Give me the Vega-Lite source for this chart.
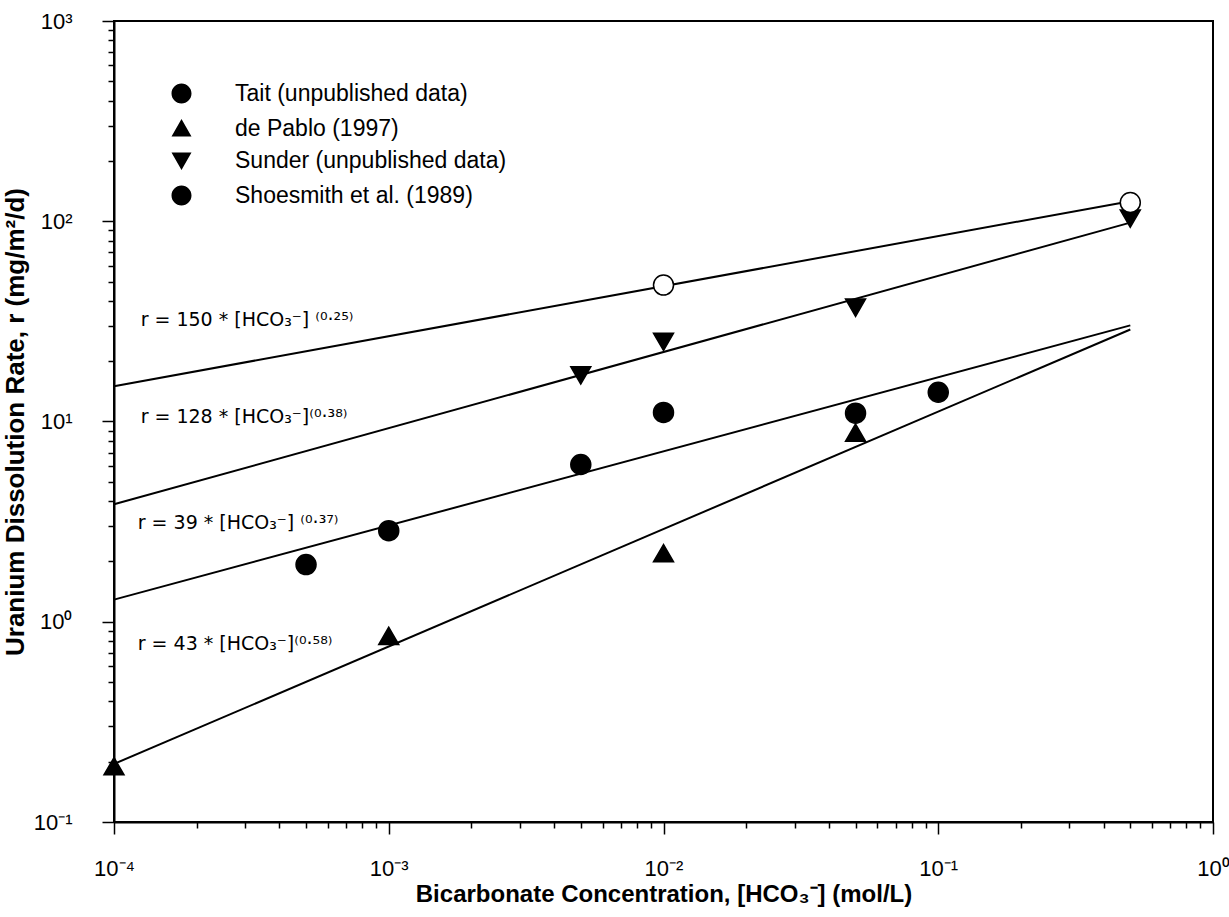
{
  "$schema": "https://vega.github.io/schema/vega-lite/v6.json",
  "autosize": {"type": "none"},
  "width": 1099,
  "height": 801,
  "padding": {"left": 114, "top": 21, "right": 16, "bottom": 95},
  "background": "white",
  "config": {
    "view": {"stroke": "black", "strokeWidth": 2},
    "font": "Liberation Sans",
    "axis": {
      "grid": false,
      "domainColor": "black",
      "domainWidth": 2,
      "tickColor": "black",
      "tickWidth": 1.5,
      "labelColor": "black",
      "titleColor": "black",
      "labelFont": "Liberation Sans",
      "titleFont": "Liberation Sans",
      "labelFontSize": 22,
      "titleFontSize": 24,
      "titleFontWeight": "bold",
      "labelOverlap": false,
      "labelFlush": false
    }
  },
  "datasets": {
    "points": [
      {"series": "Tait (unpublished data)", "conc": 0.0005, "rate": 1.93},
      {"series": "Tait (unpublished data)", "conc": 0.001, "rate": 2.85},
      {"series": "Tait (unpublished data)", "conc": 0.005, "rate": 6.1},
      {"series": "Tait (unpublished data)", "conc": 0.01, "rate": 11.1},
      {"series": "Tait (unpublished data)", "conc": 0.05, "rate": 11.0},
      {"series": "Tait (unpublished data)", "conc": 0.1, "rate": 14.0},
      {"series": "de Pablo (1997)", "conc": 0.0001, "rate": 0.19},
      {"series": "de Pablo (1997)", "conc": 0.001, "rate": 0.85},
      {"series": "de Pablo (1997)", "conc": 0.01, "rate": 2.2},
      {"series": "de Pablo (1997)", "conc": 0.05, "rate": 8.8},
      {"series": "Sunder (unpublished data)", "conc": 0.005, "rate": 17},
      {"series": "Sunder (unpublished data)", "conc": 0.01, "rate": 25},
      {"series": "Sunder (unpublished data)", "conc": 0.05, "rate": 37},
      {"series": "Sunder (unpublished data)", "conc": 0.5, "rate": 103},
      {"series": "Shoesmith et al. (1989)", "conc": 0.01, "rate": 48},
      {"series": "Shoesmith et al. (1989)", "conc": 0.5, "rate": 124}
    ],
    "fits": [
      {"fit": "Shoesmith", "conc": 0.0001, "rate": 15.0},
      {"fit": "Shoesmith", "conc": 0.5, "rate": 126},
      {"fit": "Sunder", "conc": 0.0001, "rate": 3.86},
      {"fit": "Sunder", "conc": 0.5, "rate": 98.4},
      {"fit": "Tait", "conc": 0.0001, "rate": 1.29},
      {"fit": "Tait", "conc": 0.5, "rate": 30.2},
      {"fit": "de Pablo", "conc": 0.0001, "rate": 0.195},
      {"fit": "de Pablo", "conc": 0.5, "rate": 28.8}
    ],
    "labels": [
      {"text": "r = 150 * [HCO₃⁻] ⁽⁰·²⁵⁾", "conc": 0.000125, "rate": 30},
      {"text": "r = 128 * [HCO₃⁻]⁽⁰·³⁸⁾", "conc": 0.000125, "rate": 9.8},
      {"text": "r = 39 * [HCO₃⁻] ⁽⁰·³⁷⁾", "conc": 0.000122, "rate": 2.9},
      {"text": "r = 43 * [HCO₃⁻]⁽⁰·⁵⁸⁾", "conc": 0.000122, "rate": 0.72}
    ]
  },
  "resolve": {
    "scale": {"shape": "independent"},
    "legend": {"shape": "independent"}
  },
  "encoding": {
    "x": {
      "field": "conc",
      "type": "quantitative",
      "scale": {"type": "log", "domain": [0.0001, 1]},
      "axis": {
        "title": "Bicarbonate Concentration, [HCO₃⁻] (mol/L)",
        "values": [0.0001, 0.0002, 0.0003, 0.0004, 0.0005, 0.0006, 0.0007, 0.0008, 0.0009, 0.001, 0.002, 0.003, 0.004, 0.005, 0.006, 0.007, 0.008, 0.009, 0.01, 0.02, 0.03, 0.04, 0.05, 0.06, 0.07, 0.08, 0.09, 0.1, 0.2, 0.3, 0.4, 0.5, 0.6, 0.7, 0.8, 0.9, 1],
        "labelExpr": "datum.value == 0.0001 ? '10⁻⁴' : datum.value == 0.001 ? '10⁻³' : datum.value == 0.01 ? '10⁻²' : datum.value == 0.1 ? '10⁻¹' : datum.value == 1 ? '10⁰' : ''",
        "tickSize": {"condition": {"test": "indexof([0.0001, 0.001, 0.01, 0.1, 1], datum.value) >= 0", "value": 12}, "value": 6},
        "labelPadding": 24,
        "titlePadding": 3
      }
    },
    "y": {
      "field": "rate",
      "type": "quantitative",
      "scale": {"type": "log", "domain": [0.1, 1000]},
      "axis": {
        "title": "Uranium Dissolution Rate, r (mg/m²/d)",
        "titleFontSize": 26,
        "values": [0.1, 0.2, 0.3, 0.4, 0.5, 0.6, 0.7, 0.8, 0.9, 1, 2, 3, 4, 5, 6, 7, 8, 9, 10, 20, 30, 40, 50, 60, 70, 80, 90, 100, 200, 300, 400, 500, 600, 700, 800, 900, 1000],
        "labelExpr": "datum.value == 0.1 ? '10⁻¹' : datum.value == 1 ? '10⁰' : datum.value == 10 ? '10¹' : datum.value == 100 ? '10²' : datum.value == 1000 ? '10³' : ''",
        "tickSize": {"condition": {"test": "indexof([0.1, 1, 10, 100, 1000], datum.value) >= 0", "value": 12}, "value": 6},
        "labelPadding": 30,
        "titlePadding": 5
      }
    }
  },
  "layer": [
    {
      "data": {"name": "fits"},
      "mark": {"type": "line", "color": "black", "strokeWidth": 2},
      "encoding": {"detail": {"field": "fit"}}
    },
    {
      "data": {"name": "points"},
      "mark": {"type": "point", "stroke": "black", "strokeWidth": 1.5, "opacity": 1, "size": 400, "fillOpacity": 1},
      "encoding": {
        "shape": {
          "field": "series",
          "type": "nominal",
          "scale": {
            "domain": ["Tait (unpublished data)", "de Pablo (1997)", "Sunder (unpublished data)", "Shoesmith et al. (1989)"],
            "range": ["circle", "triangle-up", "triangle-down", "circle"]
          },
          "legend": null
        },
        "fill": {
          "field": "series",
          "type": "nominal",
          "scale": {
            "domain": ["Tait (unpublished data)", "de Pablo (1997)", "Sunder (unpublished data)", "Shoesmith et al. (1989)"],
            "range": ["black", "black", "black", "white"]
          },
          "legend": null
        }
      }
    },
    {
      "data": {"name": "points"},
      "mark": {"type": "point", "filled": true, "fill": "black", "stroke": "black", "strokeWidth": 2, "opacity": 0, "size": 400},
      "encoding": {
        "shape": {
          "field": "series",
          "type": "nominal",
          "scale": {
            "domain": ["Tait (unpublished data)", "de Pablo (1997)", "Sunder (unpublished data)", "Shoesmith et al. (1989)"],
            "range": [
              "M-2.6,0H-1A1,1 0 1,1 1,0A1,1 0 1,1 -1,0M1,0H2.6",
              "M-2.6,0.25H2.6M0,-0.95L1,0.8L-1,0.8Z",
              "M-2.6,-0.25H2.6M0,0.95L1,-0.8L-1,-0.8Z",
              "M-2.6,0H-1A1,1 0 1,1 1,0A1,1 0 1,1 -1,0M1,0H2.6"
            ]
          },
          "legend": {
            "title": null,
            "orient": "none",
            "legendX": 56,
            "legendY": 61,
            "labelFont": "Liberation Sans",
            "labelFontSize": 23,
            "labelColor": "black",
            "labelLimit": 0,
            "symbolSize": 400,
            "symbolOpacity": 1,
            "symbolStrokeWidth": 2,
            "symbolStrokeColor": "black",
            "labelOffset": 42,
            "rowPadding": 7,
            "encode": {
              "symbols": {
                "fill": {
                  "condition": {"test": "datum.value === 'Shoesmith et al. (1989)'", "value": "white"},
                  "value": "black"
                },
                "stroke": {"value": "black"},
                "strokeWidth": {"value": 2}
              }
            }
          }
        }
      }
    },
    {
      "data": {"name": "labels"},
      "mark": {"type": "text", "align": "left", "baseline": "alphabetic", "fontSize": 19, "font": "DejaVu Sans", "color": "black"},
      "encoding": {"text": {"field": "text"}}
    }
  ]
}
